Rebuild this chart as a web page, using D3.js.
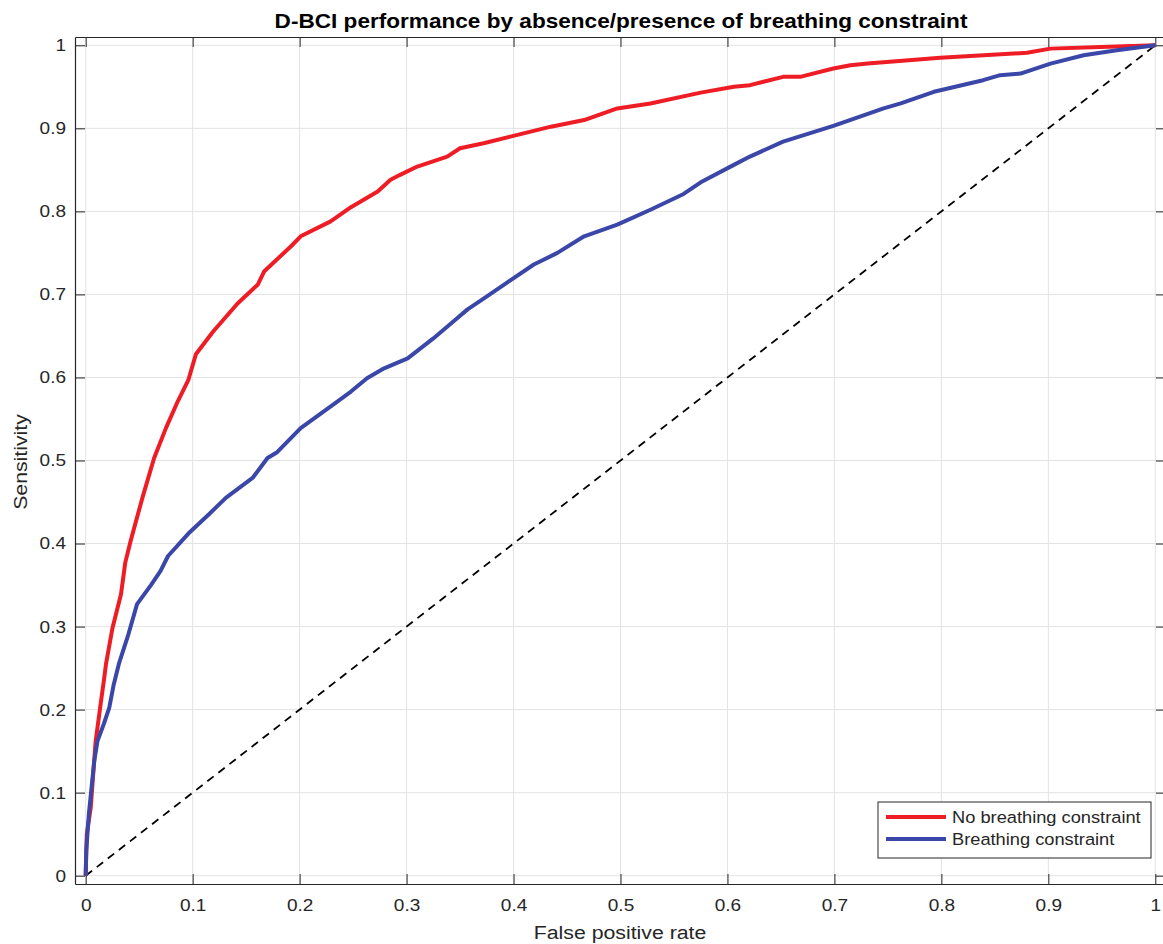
<!DOCTYPE html>
<html><head><meta charset="utf-8">
<script src="https://cdn.jsdelivr.net/npm/d3@7"></script>
<style>body{margin:0;background:#fff;} text{font-family:"Liberation Sans",Arial,sans-serif;}</style>
</head><body>
<svg id="chart" width="1163" height="944"></svg>
<script>
const title = "D-BCI performance by absence/presence of breathing constraint";
const xLabel = "False positive rate";
const yLabel = "Sensitivity";
const seriesNames = ["No breathing constraint", "Breathing constraint"];
const seriesColors = ["#ee1c25", "#3a47a8"];
const xTicks = [0,0.1,0.2,0.3,0.4,0.5,0.6,0.7,0.8,0.9,1];
const yTicks = [0,0.1,0.2,0.3,0.4,0.5,0.6,0.7,0.8,0.9,1];
const tickLabels = ["0","0.1","0.2","0.3","0.4","0.5","0.6","0.7","0.8","0.9","1"];

const redFPR = [0,0.001,0.0047,0.0093,0.014,0.017,0.019,0.025,0.033,0.037,0.042,0.053,0.064,0.075,0.086,0.096,0.103,0.119,0.142,0.161,0.167,0.192,0.201,0.229,0.248,0.273,0.285,0.294,0.310,0.338,0.350,0.372,0.397,0.435,0.466,0.497,0.528,0.575,0.606,0.621,0.652,0.668,0.699,0.715,0.731,0.799,0.880,0.902,0.949,1];
const redTPR = [0,0.05,0.082,0.162,0.207,0.235,0.255,0.298,0.339,0.377,0.403,0.455,0.503,0.539,0.571,0.597,0.628,0.655,0.689,0.712,0.728,0.758,0.770,0.788,0.805,0.824,0.838,0.844,0.854,0.866,0.876,0.882,0.890,0.902,0.910,0.924,0.930,0.943,0.950,0.952,0.962,0.962,0.972,0.976,0.978,0.985,0.991,0.996,0.998,1];

const blueFPR = [0,0.0005,0.003,0.008,0.011,0.017,0.022,0.026,0.031,0.040,0.048,0.061,0.070,0.077,0.096,0.115,0.131,0.156,0.170,0.179,0.201,0.232,0.248,0.263,0.279,0.301,0.325,0.347,0.357,0.372,0.397,0.419,0.441,0.466,0.497,0.528,0.559,0.575,0.606,0.621,0.652,0.699,0.746,0.762,0.793,0.839,0.855,0.874,0.902,0.933,0.964,1];
const blueTPR = [0,0.03,0.075,0.138,0.162,0.183,0.202,0.229,0.255,0.291,0.327,0.350,0.367,0.385,0.412,0.435,0.455,0.479,0.503,0.510,0.539,0.568,0.583,0.599,0.611,0.623,0.647,0.671,0.682,0.695,0.717,0.736,0.750,0.770,0.784,0.802,0.821,0.835,0.856,0.866,0.884,0.903,0.924,0.930,0.944,0.958,0.964,0.966,0.978,0.988,0.994,1];

const diagX = [0,1];
const diagY = [0,1];

const svg = d3.select("#chart");
const pLeft = 75, pTop = 37, pRight = 1166, pBottom = 884;
const x = d3.scaleLinear().domain([-0.01, 1.01]).range([pLeft, pRight]);
const y = d3.scaleLinear().domain([-0.01, 1.01]).range([pBottom, pTop]);
const axisCol = "#262626";
const SX = 1.12; // horizontal stretch of glyphs seen in the reference

svg.append("defs").append("clipPath").attr("id","clip")
  .append("rect").attr("x",pLeft).attr("y",pTop).attr("width",pRight-pLeft).attr("height",pBottom-pTop);

// grid
const g = svg.append("g");
g.selectAll("line.gx").data(xTicks).join("line").attr("class","gx")
  .attr("x1",d=>x(d)).attr("x2",d=>x(d)).attr("y1",pTop).attr("y2",pBottom)
  .attr("stroke","#e3e3e3").attr("stroke-width",1);
g.selectAll("line.gy").data(yTicks).join("line").attr("class","gy")
  .attr("y1",d=>y(d)).attr("y2",d=>y(d)).attr("x1",pLeft).attr("x2",pRight)
  .attr("stroke","#e3e3e3").attr("stroke-width",1);

// axes
const xAxisB = d3.axisBottom(x).tickValues(xTicks).tickSizeInner(-10).tickSizeOuter(0).tickPadding(15).tickFormat((d,i)=>tickLabels[i]);
const xAxisT = d3.axisTop(x).tickValues(xTicks).tickSizeInner(-10).tickSizeOuter(0).tickFormat("");
const yAxisL = d3.axisLeft(y).tickValues(yTicks).tickSizeInner(-10).tickSizeOuter(0).tickPadding(9).tickFormat((d,i)=>tickLabels[i]);
const yAxisR = d3.axisRight(y).tickValues(yTicks).tickSizeInner(-10).tickSizeOuter(0).tickFormat("");
function style(sel){
  sel.selectAll("path").attr("stroke",axisCol).attr("stroke-width",1.2);
  sel.selectAll("line").attr("stroke",axisCol).attr("stroke-width",1);
  sel.selectAll("text").attr("fill",axisCol).attr("font-size",17).attr("font-family","Liberation Sans, Arial, sans-serif")
    .attr("transform", function(){ const tx = +this.getAttribute("x") || 0; return `translate(${tx},0) scale(${SX},1) translate(${-tx},0)`; });
}
svg.append("g").attr("transform",`translate(0,${pBottom})`).call(xAxisB).call(style);
svg.append("g").attr("transform",`translate(0,${pTop})`).call(xAxisT).call(style);
svg.append("g").attr("transform",`translate(${pLeft},0)`).call(yAxisL).call(style);
svg.append("g").attr("transform",`translate(${pRight},0)`).call(yAxisR).call(style);

// lines
const plot = svg.append("g").attr("clip-path","url(#clip)");
const line = d3.line().x(d=>x(d[0])).y(d=>y(d[1]));
plot.append("path").datum(diagX.map((v,i)=>[v,diagY[i]])).attr("d",line)
  .attr("fill","none").attr("stroke","#000").attr("stroke-width",1.8).attr("stroke-dasharray","8,6");
plot.append("path").datum(d3.zip(redFPR, redTPR)).attr("d",line)
  .attr("fill","none").attr("stroke",seriesColors[0]).attr("stroke-width",4).attr("stroke-linejoin","round");
plot.append("path").datum(d3.zip(blueFPR, blueTPR)).attr("d",line)
  .attr("fill","none").attr("stroke",seriesColors[1]).attr("stroke-width",4).attr("stroke-linejoin","round");

function stretched(parent, px, py, sx){
  return parent.append("text").attr("transform",`translate(${px},${py}) scale(${sx||SX},1)`);
}
// title & labels
stretched(svg, 621, 28, 1.13).attr("text-anchor","middle")
  .attr("font-size",20).attr("font-weight","bold").attr("fill","#000").text(title);
stretched(svg, 620, 939).attr("text-anchor","middle")
  .attr("font-size",19).attr("fill",axisCol).text(xLabel);
svg.append("text").attr("transform",`translate(27,462) rotate(-90) scale(${SX},1)`).attr("text-anchor","middle")
  .attr("font-size",19).attr("fill",axisCol).text(yLabel);

// legend
const lg = svg.append("g");
lg.append("rect").attr("x",878).attr("y",802).attr("width",273).attr("height",56)
  .attr("fill","#fff").attr("stroke",axisCol).attr("stroke-width",1);
seriesNames.forEach((n,i)=>{
  const yy = 817 + i*22;
  lg.append("line").attr("x1",886).attr("x2",946).attr("y1",yy).attr("y2",yy)
    .attr("stroke",seriesColors[i]).attr("stroke-width",4);
  stretched(lg, 952, yy+6, 1.075).attr("font-size",17).attr("fill",axisCol).text(n);
});
</script>
</body></html>
